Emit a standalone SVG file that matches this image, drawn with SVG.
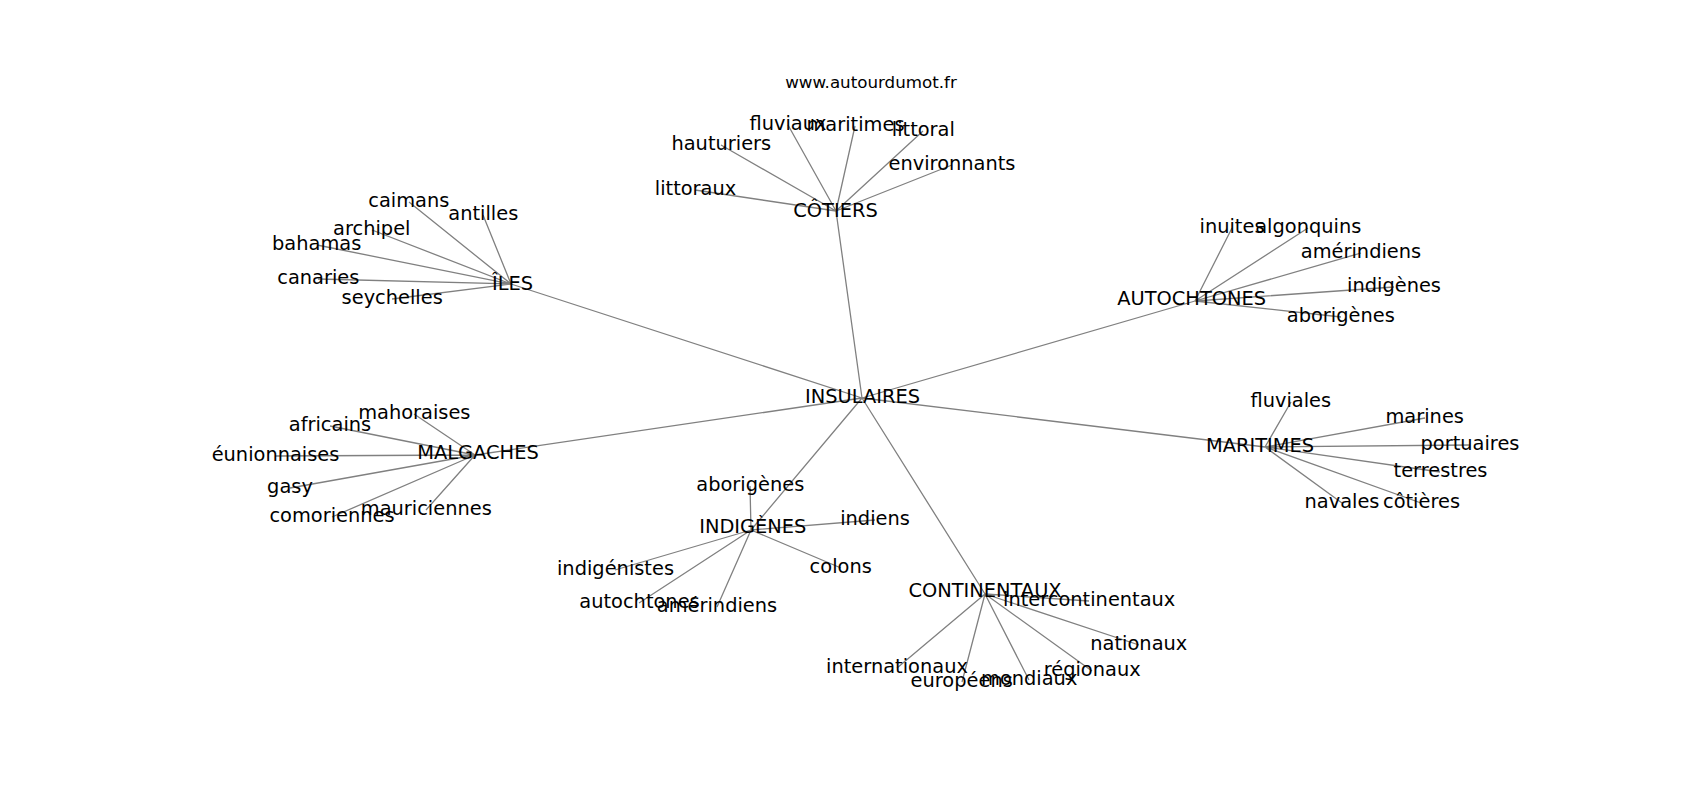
<svg xmlns="http://www.w3.org/2000/svg" width="1700" height="800" viewBox="0 0 1700 800">
<style>
.e{stroke:#808080;stroke-width:1.3;fill:none}
.l{font-family:"DejaVu Sans",sans-serif;font-size:19.4px;fill:#000;text-anchor:middle}
.u{font-family:"DejaVu Sans",sans-serif;font-size:16.7px;fill:#000;text-anchor:middle}
</style>
<rect width="1700" height="800" fill="#fff"/>
<g id="edges">
<path class="e" d="M862,398L836,211M862,398L511,284M862,398L1195,301M862,398L475,455M862,398L751,530M862,398L985,594M862,398L1265,447"/>
<path class="e" d="M511,284L409,202M511,284L483,215M511,284L372,230M511,284L317,245M511,284L318,279M511,284L392,299"/>
<path class="e" d="M836,211L788,125M836,211L855,126M836,211L923,131M836,211L721,145M836,211L952,165M836,211L695,190"/>
<path class="e" d="M1195,301L1232,228M1195,301L1308,228M1195,301L1361,253M1195,301L1394,287M1195,301L1341,317"/>
<path class="e" d="M475,455L414,414M475,455L330,426M475,455L275,456M475,455L290,488M475,455L332,517M475,455L426,510"/>
<path class="e" d="M751,530L750,486M751,530L875,520M751,530L615,570M751,530L841,568M751,530L639,603M751,530L717,607"/>
<path class="e" d="M985,594L1089,601M985,594L1139,645M985,594L897,668M985,594L962,682M985,594L1029,680M985,594L1092,671"/>
<path class="e" d="M1265,447L1291,402M1265,447L1425,418M1265,447L1470,445M1265,447L1440,472M1265,447L1342,503M1265,447L1421,503"/>
</g>
<text class="u" x="871" y="88">www.autourdumot.fr</text>
<g id="n-insulaires"><text class="l" x="862.5" y="402.5">INSULAIRES</text></g>
<g id="n-cotiers"><text class="l" x="835.5" y="216.7">CÔTIERS</text></g>
<g id="n-iles"><text class="l" x="512.5" y="290">ÎLES</text></g>
<g id="n-autochtones"><text class="l" x="1191.7" y="305">AUTOCHTONES</text></g>
<g id="n-malgaches"><text class="l" x="478" y="459">MALGACHES</text></g>
<g id="n-indigenes"><text class="l" x="752.8" y="533.3">INDIGÈNES</text></g>
<g id="n-continentaux"><text class="l" x="985" y="597">CONTINENTAUX</text></g>
<g id="n-maritimes"><text class="l" x="1260" y="451.7">MARITIMES</text></g>
<g id="leaves-iles">
<text class="l" x="408.8" y="207.3">caimans</text>
<text class="l" x="483.3" y="220">antilles</text>
<text class="l" x="371.8" y="235">archipel</text>
<text class="l" x="316.7" y="250">bahamas</text>
<text class="l" x="318.3" y="284">canaries</text>
<text class="l" x="392.2" y="304">seychelles</text>
</g>
<g id="leaves-cotiers">
<text class="l" x="788" y="130">fluviaux</text>
<text class="l" x="855.5" y="130.7">maritimes</text>
<text class="l" x="923.3" y="136">littoral</text>
<text class="l" x="721.3" y="150">hauturiers</text>
<text class="l" x="952" y="170">environnants</text>
<text class="l" x="695.5" y="195">littoraux</text>
</g>
<g id="leaves-autochtones">
<text class="l" x="1232" y="233.3">inuites</text>
<text class="l" x="1308.3" y="233.3">algonquins</text>
<text class="l" x="1361" y="258.3">amérindiens</text>
<text class="l" x="1394" y="291.7">indigènes</text>
<text class="l" x="1340.8" y="321.7">aborigènes</text>
</g>
<g id="leaves-malgaches">
<text class="l" x="414.3" y="419.3">mahoraises</text>
<text class="l" x="330" y="430.7">africains</text>
<text class="l" x="275.5" y="460.7">éunionnaises</text>
<text class="l" x="290" y="493">gasy</text>
<text class="l" x="332" y="521.7">comoriennes</text>
<text class="l" x="426.3" y="515">mauriciennes</text>
</g>
<g id="leaves-indigenes">
<text class="l" x="750.3" y="490.7">aborigènes</text>
<text class="l" x="875" y="525">indiens</text>
<text class="l" x="615.5" y="575">indigénistes</text>
<text class="l" x="840.7" y="573.3">colons</text>
<text class="l" x="639.5" y="608.3">autochtones</text>
<text class="l" x="717" y="611.7">amérindiens</text>
</g>
<g id="leaves-continentaux">
<text class="l" x="1089.2" y="606">intercontinentaux</text>
<text class="l" x="1138.8" y="650">nationaux</text>
<text class="l" x="897" y="672.7">internationaux</text>
<text class="l" x="961.7" y="687.3">européens</text>
<text class="l" x="1029.2" y="685">mondiaux</text>
<text class="l" x="1092.2" y="676">régionaux</text>
</g>
<g id="leaves-maritimes">
<text class="l" x="1290.8" y="406.7">fluviales</text>
<text class="l" x="1424.7" y="423.3">marines</text>
<text class="l" x="1470" y="450">portuaires</text>
<text class="l" x="1440.5" y="476.7">terrestres</text>
<text class="l" x="1342" y="508.3">navales</text>
<text class="l" x="1421.5" y="508.3">côtières</text>
</g>
</svg>
